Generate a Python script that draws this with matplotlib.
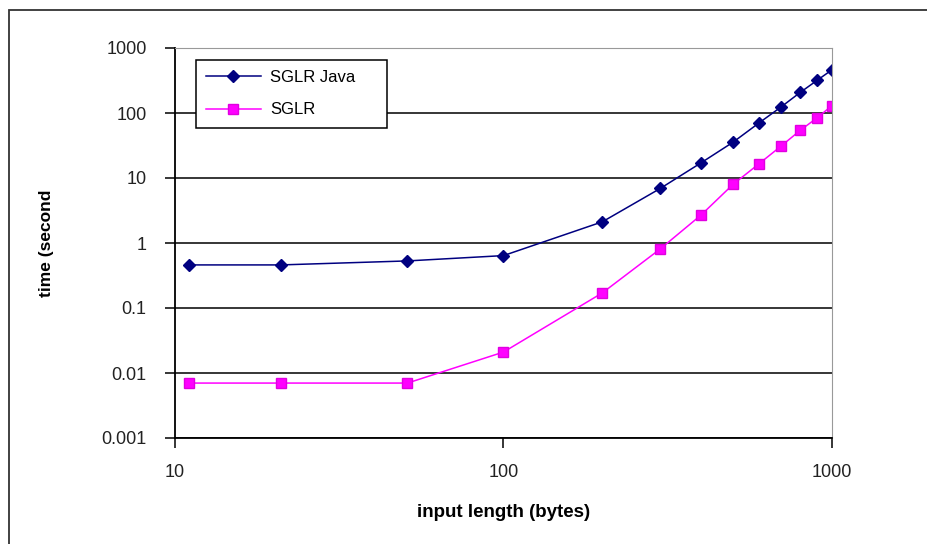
import matplotlib
matplotlib.use("Agg")
import matplotlib.pyplot as plt
from matplotlib.patches import Rectangle
from matplotlib.ticker import FixedLocator, NullLocator

## Values
sizes = [11, 21, 51, 100, 200, 300, 400, 500, 600, 700, 800, 900, 1000]
sglr_java = [0.46, 0.46, 0.53, 0.64, 2.12, 6.9, 17.2, 35.6, 70.5, 124, 207, 317, 462]
sglr = [0.007, 0.007, 0.007, 0.021, 0.171, 0.81, 2.71, 8.0, 16.6, 31, 54, 84, 130]

x_ticks = [10, 100, 1000]
x_labels = ["10", "100", "1000"]
y_ticks = [0.001, 0.01, 0.1, 1, 10, 100, 1000]
y_labels = ["0.001", "0.01", "0.1", "1", "10", "100", "1000"]

plt.rcParams["font.family"] = ["Liberation Sans", "DejaVu Sans"]

W, H = 928, 544
fig = plt.figure(figsize=(W / 100, H / 100), dpi=100)

# outer chart border (right and bottom edges run off the picture)
fig.add_artist(Rectangle((9 / W, -0.1), 1.2, 1.1 - 10 / H,
                         transform=fig.transFigure, fill=False,
                         edgecolor="#333333", linewidth=1.3))

left, right, top, bottom = 175, 832, 48, 438
ax = fig.add_axes([left / W, 1 - bottom / H, (right - left) / W, (bottom - top) / H])

ax.plot(sizes, sglr_java, color="#000080", marker="D", markersize=6.5,
        linewidth=1.1, label="SGLR Java")
ax.plot(sizes, sglr, color="#FF00FF", marker="s", markersize=7,
        markeredgecolor="#E000E0", linewidth=1.1, label="SGLR")

ax.set_xscale("log")
ax.set_yscale("log")
ax.set_xlim(10, 1000)
ax.set_ylim(0.001, 1000)

ax.xaxis.set_major_locator(FixedLocator(x_ticks))
ax.xaxis.set_minor_locator(NullLocator())
ax.set_xticklabels(x_labels)
ax.yaxis.set_major_locator(FixedLocator(y_ticks))
ax.yaxis.set_minor_locator(NullLocator())
ax.set_yticklabels(y_labels)

ax.grid(True, axis="y", color="black", linewidth=1.1)
ax.set_axisbelow(True)

ax.tick_params(axis="both", direction="out", length=7.5, width=1.1,
               labelsize=13, colors="black")
ax.tick_params(axis="x", pad=11)
ax.tick_params(axis="y", pad=13)
for lbl in ax.get_xticklabels() + ax.get_yticklabels():
    lbl.set_color("#222222")

ax.spines["left"].set_linewidth(1.3)
ax.spines["bottom"].set_linewidth(1.3)
ax.spines["top"].set_color("#999999")
ax.spines["right"].set_color("#999999")

ax.set_xlabel("input length (bytes)", fontsize=13.5, fontweight="bold", labelpad=17)
fig.text(47 / W, 1 - 243 / H, "time (second", rotation=90, fontsize=12.5,
         fontweight="bold", ha="center", va="center")

# legend box spans roughly x 196..387, y 60..127 in the reference
aw, ah = right - left, bottom - top
leg = ax.legend(loc="upper left",
                bbox_to_anchor=((196 - left) / aw, 1 - (60 - top) / ah,
                                (387 - 196) / aw, 0.0),
                mode="expand", frameon=True, fancybox=False, framealpha=1,
                edgecolor="black", fontsize=12, borderaxespad=0,
                handlelength=3.3, handletextpad=0.55, borderpad=0.6,
                labelspacing=1.05)
leg.get_frame().set_linewidth(1.1)

fig.savefig("out.png", dpi=100)
